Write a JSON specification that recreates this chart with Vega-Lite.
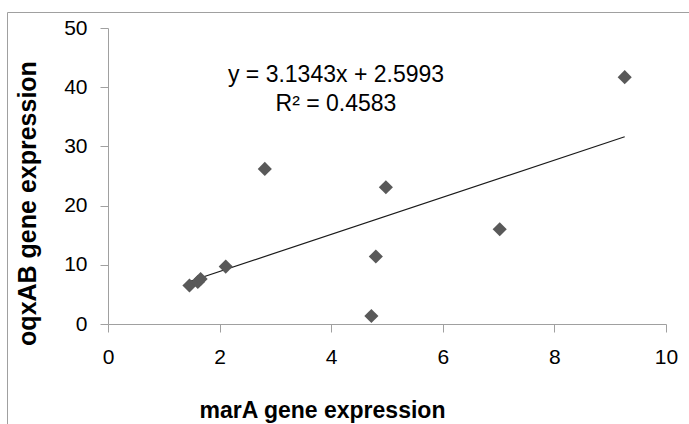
{
  "$schema": "https://vega.github.io/schema/vega-lite/v6.json",
  "width": 558,
  "height": 296,
  "autosize": {"type": "none"},
  "padding": {"left": 108, "top": 28, "right": 23, "bottom": 100},
  "background": "white",
  "config": {"view": {"stroke": null}, "font": "Liberation Sans"},
  "datasets": {
    "points": [
      {"x": 1.46, "y": 6.5},
      {"x": 1.61, "y": 7.1},
      {"x": 1.66, "y": 7.6},
      {"x": 2.11, "y": 9.7},
      {"x": 2.81, "y": 26.2},
      {"x": 4.72, "y": 1.35},
      {"x": 4.8, "y": 11.4},
      {"x": 4.98, "y": 23.1},
      {"x": 7.02, "y": 16.0},
      {"x": 9.26, "y": 41.7}
    ],
    "trend": [
      {"x": 1.46, "y": 7.175},
      {"x": 9.26, "y": 31.622}
    ],
    "eq": [
      {"x": 4.086, "y": 40.88, "label": "y = 3.1343x + 2.5993"},
      {"x": 4.086, "y": 35.98, "label": "R² = 0.4583"}
    ],
    "border": [
      {"x": -1.801, "x2": 11.5, "y": 52.618, "y2": 52.618},
      {"x": -1.801, "x2": -1.801, "y": 52.618, "y2": -20}
    ]
  },
  "encoding": {
    "x": {
      "field": "x",
      "type": "quantitative",
      "scale": {"domain": [0, 10], "nice": false},
      "axis": {
        "values": [0, 2, 4, 6, 8, 10],
        "grid": false,
        "domainColor": "#a0a0a0",
        "tickColor": "#a0a0a0",
        "tickSize": 8,
        "labelFontSize": 21,
        "labelColor": "#000000",
        "labelPadding": 14,
        "labelFlush": false,
        "labelOverlap": false,
        "title": "marA gene expression",
        "titleFontSize": 23,
        "titleFontWeight": "bold",
        "titleColor": "#000000",
        "titleX": 214,
        "titleY": 93,
        "titleBaseline": "alphabetic",
        "titleAlign": "center"
      }
    },
    "y": {
      "field": "y",
      "type": "quantitative",
      "scale": {"domain": [0, 50], "nice": false},
      "axis": {
        "values": [0, 10, 20, 30, 40, 50],
        "grid": false,
        "domainColor": "#a0a0a0",
        "tickColor": "#a0a0a0",
        "tickSize": 8,
        "labelFontSize": 21,
        "labelColor": "#000000",
        "labelPadding": 13,
        "labelFlush": false,
        "labelOverlap": false,
        "title": "oqxAB gene expression",
        "titleFontSize": 25,
        "titleFontWeight": "bold",
        "titleColor": "#000000",
        "titleAngle": -90,
        "titleX": -73,
        "titleY": 175,
        "titleBaseline": "alphabetic",
        "titleAlign": "center"
      }
    }
  },
  "layer": [
    {
      "data": {"name": "border"},
      "mark": {"type": "rule", "color": "#a0a0a0", "strokeWidth": 1},
      "encoding": {"x2": {"field": "x2"}, "y2": {"field": "y2"}}
    },
    {
      "data": {"name": "trend"},
      "mark": {"type": "line", "color": "#1a1a1a", "strokeWidth": 1.2},
      "encoding": {}
    },
    {
      "data": {"name": "points"},
      "mark": {"type": "point", "shape": "diamond", "filled": true, "size": 200, "color": "#595959", "opacity": 1}
    },
    {
      "data": {"name": "eq"},
      "mark": {"type": "text", "align": "center", "baseline": "alphabetic", "fontSize": 23, "font": "Liberation Sans", "color": "#000000"},
      "encoding": {"text": {"field": "label"}}
    }
  ]
}
